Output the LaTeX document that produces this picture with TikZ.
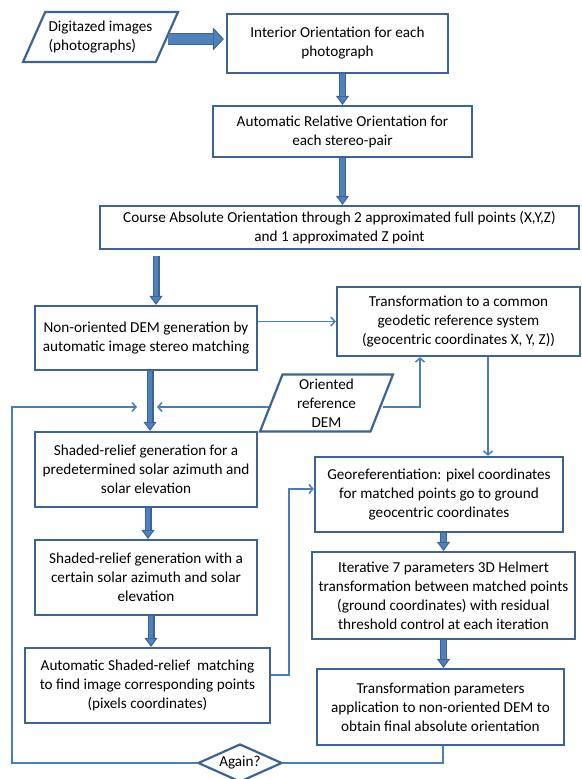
\documentclass[tikz,border=0pt]{standalone}
\usepackage{fontspec}
\setmainfont{Carlito}
\usetikzlibrary{arrows.meta,shapes.geometric}
\pgfdeclarelayer{background}
\pgfsetlayers{background,main}
\definecolor{boxblue}{HTML}{3B6494}
\definecolor{flowfill}{HTML}{4F81BD}
\definecolor{linkblue}{HTML}{4A7EBB}
\tikzstyle{block}=[rectangle,draw=boxblue,line width=2.2pt,fill=white,align=center,inner sep=1pt]
\tikzstyle{io}=[trapezium,draw=boxblue,line width=2.2pt,fill=white,align=center,inner sep=1pt,trapezium stretches body]
\tikzstyle{decision}=[diamond,draw=boxblue,line width=2.2pt,fill=white,inner sep=0pt,aspect=2.2]
\tikzstyle{flow}=[draw=boxblue,line width=7pt,-{Triangle[width=13pt,length=9pt,line width=1pt,fill=flowfill]},postaction={draw=flowfill,line width=4.5pt,-,shorten >=9pt}]
\tikzstyle{bigflow}=[draw=boxblue,line width=12.5pt,-{Triangle[width=23pt,length=11pt,line width=1pt,fill=flowfill]},postaction={draw=flowfill,line width=9.5pt,-,shorten >=11pt}]
\tikzstyle{link}=[draw=linkblue,line width=1.5pt,-{Straight Barb[length=4pt,width=9pt]}]

\begin{document}
\begin{tikzpicture}[x=1pt,y=-1pt,font=\fontsize{15.2}{19}\selectfont]
    \useasboundingbox (0,0) rectangle (581,779);
    % First we draw the boxes
    \node[io,trapezium left angle=57,trapezium right angle=123,minimum width=155pt,minimum height=50pt,align=left] (digi) at (100.5,37) {Digitazed images\\(photographs)};
    \node[block,minimum width=221pt,minimum height=59pt] (interior) at (337.5,43.5) {Interior Orientation for each\\photograph};
    \node[block,minimum width=259pt,minimum height=51pt] (relative) at (342.5,131.5) {Automatic Relative Orientation for\\each stereo-pair};
    \node[block,minimum width=479pt,minimum height=43pt] (course) at (339.5,227.5) {Course Absolute Orientation through 2 approximated full points (X,Y,Z)\\and 1 approximated Z point};
    \node[block,minimum width=222pt,minimum height=64pt] (nonor) at (146,338) {Non-oriented DEM generation by\\automatic image stereo matching};
    \node[block,minimum width=243pt,minimum height=69pt] (trans) at (458.5,321.5) {Transformation to a common\\geodetic reference system\\(geocentric coordinates X, Y, Z))};
    \node[io,trapezium left angle=66,trapezium right angle=114,minimum width=133pt,minimum height=57pt] (orient) at (326.5,403) {Oriented\\reference\\DEM};
    \node[block,minimum width=222pt,minimum height=75pt] (shade1) at (146,469.5) {Shaded-relief generation for a\\predetermined solar azimuth and\\solar elevation};
    \node[block,minimum width=222pt,minimum height=75pt] (shade2) at (146,577.5) {Shaded-relief generation with a\\certain solar azimuth and solar\\elevation};
    \node[block,minimum width=245pt,minimum height=75pt] (match) at (147.5,685.5) {Automatic Shaded-relief~ matching\\to find image corresponding points\\(pixels coordinates)};
    \node[block,minimum width=248pt,minimum height=75pt] (georef) at (439,494.5) {Georeferentiation: pixel coordinates\\for matched points go to ground\\geocentric coordinates};
    \node[block,minimum width=263pt,minimum height=87pt] (helmert) at (443.5,595.5) {Iterative 7 parameters 3D Helmert\\transformation between matched points\\(ground coordinates) with residual\\threshold control at each iteration};
    \node[block,minimum width=247pt,minimum height=76pt] (params) at (440.5,707) {Transformation parameters\\application to non-oriented DEM to\\obtain final absolute orientation};
    \node[decision,minimum width=84pt,minimum height=38pt] (again) at (240,763) {Again?};
    \coordinate (mergeL) at (137,407);
    \coordinate (mergeR) at (157,407);
    % Thin connectors go behind the boxes
    \begin{pgfonlayer}{background}
    \draw[link] (nonor.east |- trans.west) -- (trans.west);
    \draw[link] (orient.west |- mergeR) -- (mergeR);
    \draw[link] (orient.east |- mergeR) -| ([xshift=-38.5pt]trans.south);
    \draw[link] ([xshift=29.5pt]trans.south) -- ([xshift=29.5pt]trans.south |- georef.north);
    \draw[link] ([yshift=10.5pt]match.east) -- ++(18,0) |- ([yshift=5.5pt]georef.west);
    \draw[link,-] ([xshift=2.5pt]params.south) |- (again.east);
    \draw[link] (again.west) -- ++(-185,0) |- (mergeL);
    \end{pgfonlayer}
    % Thick flow arrows
    \draw[bigflow] ([yshift=-2pt]digi.east) -- ([yshift=-2pt,xshift=-2pt]digi.east -| interior.west);
    \draw[flow] (relative.north |- interior.south) -- (relative.north);
    \draw[flow] (relative.south) -- (relative.south |- course.north);
    \draw[flow] ([xshift=10pt,yshift=-6pt]course.south -| nonor.north) -- ([xshift=10pt]nonor.north);
    \draw[flow] ([xshift=4pt]nonor.south) -- ([xshift=4pt]shade1.north);
    \draw[flow] ([xshift=2pt]shade1.south) -- ([xshift=2pt]shade2.north);
    \draw[flow] ([xshift=5pt]shade2.south) -- ([xshift=5pt]shade2.south |- match.north);
    \draw[flow] (helmert.north |- georef.south) -- (helmert.north);
    \draw[flow] (helmert.south) -- (helmert.south |- params.north);
\end{tikzpicture}
\end{document}
